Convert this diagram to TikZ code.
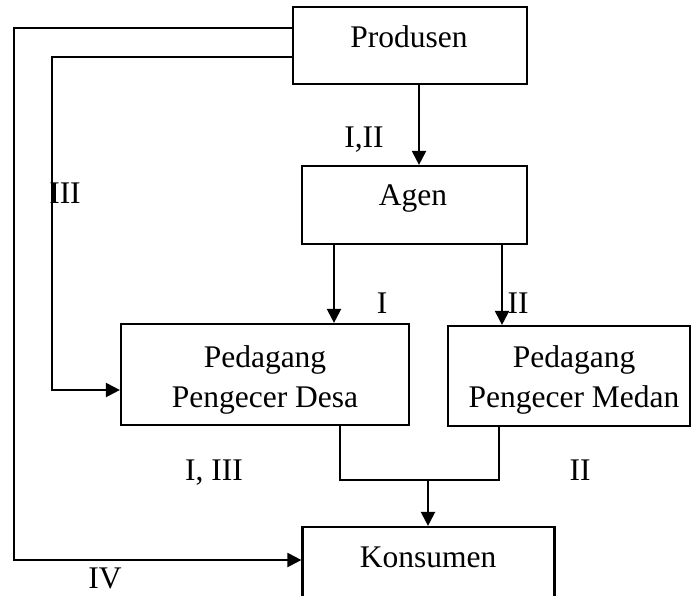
\documentclass[tikz,border=0pt]{standalone}
\usepackage{fontspec}
\setmainfont{Liberation Serif}
\usetikzlibrary{arrows.meta}
\begin{document}
\begin{tikzpicture}[x=1pt,y=-1pt,
  box/.style={draw,line width=2.2pt,rectangle,inner sep=0pt},
  txt/.style={anchor=base,inner sep=0pt,font=\fontsize{31.5}{38}\selectfont},
  link/.style={line width=2.2pt},
  arr/.style={line width=2.2pt,-{Triangle[length=14pt,width=14pt]}}]
\useasboundingbox (0,0) rectangle (692,595);
\clip (0,0) rectangle (692,595);
% boxes
\node[box,minimum width=234pt,minimum height=77pt] (prod) at (410,45.5) {};
\node[box,minimum width=225pt,minimum height=78pt] (agen) at (414.5,205) {};
\node[box,minimum width=288pt,minimum height=101pt] (desa) at (265,374.5) {};
\node[box,minimum width=242pt,minimum height=100pt] (medan) at (569,376) {};
\node[box,minimum width=252pt,minimum height=80pt] (kons) at (428.5,567) {};
% texts
\node[txt] (tprod) at (409,47) {Produsen};
\node[txt] (tagen) at (413,205) {Agen};
\node[txt] (tdesa1) at (265,367) {Pedagang};
\node[txt] (tdesa2) at (265,407) {Pengecer Desa};
\node[txt] (tmed1) at (574,367) {Pedagang};
\node[txt] (tmed2) at (574,407) {Pengecer Medan};
\node[txt] (tkons) at (428,567) {Konsumen};
% labels
\node[txt] (lIII) at (65,203) {III};
\node[txt] (lIII2) at (364,147) {I,II};
\node[txt] (lI) at (382,313) {I};
\node[txt] (lII) at (518,313) {II};
\node[txt] (lIIII) at (214,480) {I, III};
\node[txt] (lIIb) at (580,480) {II};
\node[txt] (lIV) at (105,588) {IV};
% connectors
\draw[arr] (prod.south -| 419,0) -- (agen.north -| 419,0);
\draw[arr] (agen.south -| 334,0) -- (desa.north -| 334,0);
\draw[arr] (agen.south -| 502,0) -- (medan.north -| 502,0);
\draw[arr] (prod.west |- 0,28) -- (14,28) -- (14,560) -- (kons.west |- 0,560);
\draw[arr] (prod.west |- 0,57) -- (52,57) -- (52,390) -- (desa.west |- 0,390);
\coordinate (join) at (428,480);
\draw[link] (desa.south -| 340,0) -- (340,480) -- (499,480) -- (medan.south -| 499,0);
\draw[arr] (join) -- (kons.north -| join);
\end{tikzpicture}
\end{document}
